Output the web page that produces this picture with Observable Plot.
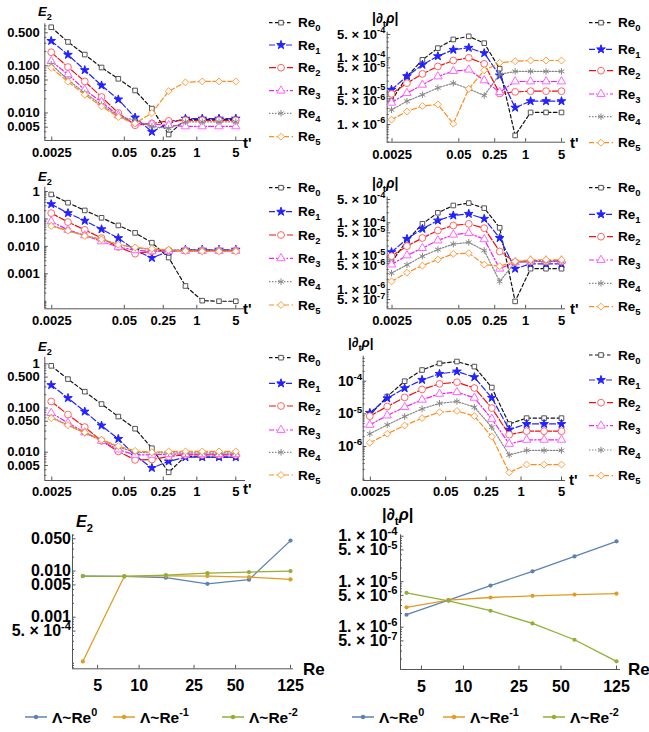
<!DOCTYPE html>
<html><head><meta charset="utf-8">
<script src="https://cdn.jsdelivr.net/npm/d3@7"></script>
<script src="https://cdn.jsdelivr.net/npm/@observablehq/plot@0.6"></script>
<style>
body{margin:0;background:#fff;}
#root{position:relative;width:649px;height:732px;overflow:hidden;font-family:"Liberation Sans",Arial,sans-serif;font-weight:bold;}
</style></head><body><div id="root"></div>
<script>
// ---------------- data ----------------
const tPrime = [0.00244140625, 0.0048828125, 0.009765625, 0.01953125, 0.0390625, 0.078125, 0.15625, 0.3125, 0.625, 1.25, 2.5, 5];
const ReGrid = [3.90625, 7.8125, 15.625, 31.25, 62.5, 125];
const seriesNames = ["0", "1", "2", "3", "4", "5"];
const lambdaNames = ["0", "-1", "-2"];

const tTicks = [0.0025, 0.05, 0.25, 1, 5];
const tTickLabels = ["0.0025", "0.05", "0.25", "1", "5"];
const ReTicks = [5, 10, 25, 50, 125];
const ReTickLabels = ["5", "10", "25", "50", "125"];

const e2TicksA = [0.005, 0.01, 0.05, 0.1, 0.5];
const e2LabelsA = ["0.005", "0.010", "0.050", "0.100", "0.500"];
const e2TicksB = [0.001, 0.01, 0.1, 1];
const e2LabelsB = ["0.001", "0.010", "0.100", "1"];
const e2TicksC = [0.005, 0.01, 0.05, 0.1, 0.5, 1];
const e2LabelsC = ["0.005", "0.010", "0.050", "0.100", "0.500", "1"];
const e2TicksD = [5e-4, 0.001, 0.005, 0.01, 0.05];
const e2LabelsD = ["5. × 10^{-4}", "0.001", "0.005", "0.010", "0.050"];
const rhoTicksA = [1e-6, 5e-6, 1e-5, 5e-5, 1e-4, 5e-4];
const rhoLabelsA = ["1. × 10^{-6}", "5. × 10^{-6}", "1. × 10^{-5}", "5. × 10^{-5}", "1. × 10^{-4}", "5. × 10^{-4}"];
const rhoTicksB = [5e-7, 1e-6, 5e-6, 1e-5, 5e-5, 1e-4, 5e-4];
const rhoLabelsB = ["5. × 10^{-7}", "1. × 10^{-6}", "5. × 10^{-6}", "1. × 10^{-5}", "5. × 10^{-5}", "1. × 10^{-4}", "5. × 10^{-4}"];
const rhoTicksC = [1e-6, 1e-5, 1e-4];
const rhoLabelsC = ["10^{-6}", "10^{-5}", "10^{-4}"];
const rhoTicksD = [5e-7, 1e-6, 5e-6, 1e-5, 5e-5, 1e-4];
const rhoLabelsD = ["5. × 10^{-7}", "1. × 10^{-6}", "5. × 10^{-6}", "1. × 10^{-5}", "5. × 10^{-5}", "1. × 10^{-4}"];

// row 1
const e2Row1 = [
  [0.656, 0.32, 0.173, 0.092, 0.053, 0.030, 0.0124, 0.0035, 0.0073, 0.0073, 0.0073, 0.0073],
  [0.337, 0.171, 0.081, 0.0384, 0.0194, 0.0080, 0.0040, 0.0061, 0.0076, 0.0076, 0.0076, 0.0076],
  [0.194, 0.094, 0.0467, 0.0218, 0.0100, 0.0055, 0.0060, 0.0068, 0.0070, 0.0070, 0.0070, 0.0070],
  [0.125, 0.0656, 0.031, 0.017, 0.0089, 0.0060, 0.0058, 0.0055, 0.0052, 0.0052, 0.0052, 0.0052],
  [0.107, 0.0506, 0.0265, 0.015, 0.0085, 0.0070, 0.0052, 0.0047, 0.0065, 0.0065, 0.0065, 0.0065],
  [0.0907, 0.0459, 0.0244, 0.0138, 0.0082, 0.0060, 0.0100, 0.029, 0.0445, 0.0466, 0.0466, 0.0466]
];
const rhoRow1 = [
  [5.2e-6, 2.75e-5, 8.7e-5, 1.95e-4, 3.55e-4, 4.4e-4, 2.75e-4, 4.7e-5, 4.7e-7, 2.3e-6, 2.3e-6, 2.3e-6],
  [1.1e-5, 2.8e-5, 6.2e-5, 1.12e-4, 1.74e-4, 2.0e-4, 1.38e-4, 2.95e-5, 3.2e-6, 5.0e-6, 5.0e-6, 5.0e-6],
  [8.3e-6, 1.74e-5, 3.3e-5, 5.5e-5, 8.3e-5, 1.0e-4, 6.6e-5, 8.5e-6, 9.5e-6, 1.0e-5, 1.0e-5, 1.0e-5],
  [4.5e-6, 8.7e-6, 1.55e-5, 2.75e-5, 4.0e-5, 4.4e-5, 2.1e-5, 9.3e-6, 1.95e-5, 1.95e-5, 1.95e-5, 1.95e-5],
  [2.75e-6, 5.0e-6, 7.8e-6, 1.26e-5, 1.74e-5, 1.17e-5, 7.4e-6, 3.2e-5, 3.9e-5, 3.9e-5, 3.9e-5, 3.9e-5],
  [1.4e-6, 2.45e-6, 3.6e-6, 4.0e-6, 1.05e-6, 1.17e-5, 4.2e-5, 7.1e-5, 7.9e-5, 8.3e-5, 8.3e-5, 8.3e-5]
];
// row 2
const e2Row2 = [
  [0.78, 0.39, 0.204, 0.11, 0.058, 0.031, 0.0136, 0.0039, 0.00036, 0.000105, 0.0001, 0.0001],
  [0.346, 0.163, 0.086, 0.042, 0.020, 0.0072, 0.0038, 0.0066, 0.0076, 0.0076, 0.0076, 0.0076],
  [0.163, 0.077, 0.040, 0.020, 0.0095, 0.0054, 0.0066, 0.0070, 0.0070, 0.0070, 0.0070, 0.0070],
  [0.081, 0.040, 0.025, 0.0152, 0.0095, 0.0072, 0.0066, 0.0068, 0.0068, 0.0068, 0.0068, 0.0068],
  [0.058, 0.038, 0.025, 0.018, 0.012, 0.0087, 0.0078, 0.0074, 0.0074, 0.0074, 0.0074, 0.0074],
  [0.055, 0.037, 0.0238, 0.018, 0.0115, 0.0092, 0.0082, 0.0074, 0.0068, 0.0066, 0.0066, 0.0066]
];
const rhoRow2 = [
  [6.6e-6, 2.95e-5, 9.3e-5, 2.0e-4, 3.3e-4, 3.9e-4, 2.75e-4, 7.1e-5, 4.4e-7, 4.2e-6, 4.2e-6, 4.2e-6],
  [1.32e-5, 3.3e-5, 6.6e-5, 1.17e-4, 1.66e-4, 1.86e-4, 1.32e-4, 3.5e-5, 4.2e-6, 5.9e-6, 5.9e-6, 5.9e-6],
  [1.0e-5, 2.0e-5, 3.5e-5, 5.9e-5, 8.3e-5, 9.3e-5, 6.9e-5, 1.38e-5, 6.6e-6, 6.9e-6, 6.9e-6, 6.9e-6],
  [5.6e-6, 1.05e-5, 1.74e-5, 2.95e-5, 4.4e-5, 4.9e-5, 3.2e-5, 4.2e-6, 6.6e-6, 7.4e-6, 7.4e-6, 7.4e-6],
  [3.1e-6, 5.5e-6, 1.0e-5, 1.58e-5, 2.3e-5, 2.6e-5, 1.48e-5, 1.74e-6, 6.6e-6, 6.9e-6, 6.9e-6, 6.9e-6],
  [1.74e-6, 3.2e-6, 5.2e-6, 7.9e-6, 1.17e-5, 1.23e-5, 5.6e-6, 5.0e-6, 6.9e-6, 7.8e-6, 7.8e-6, 7.8e-6]
];
// row 3
const e2Row3 = [
  [0.90, 0.45, 0.234, 0.123, 0.064, 0.034, 0.0123, 0.0035, 0.0081, 0.0077, 0.0077, 0.0077],
  [0.33, 0.168, 0.083, 0.040, 0.020, 0.0084, 0.0044, 0.0062, 0.0077, 0.0077, 0.0077, 0.0077],
  [0.14, 0.071, 0.037, 0.018, 0.0104, 0.0067, 0.0068, 0.0080, 0.0087, 0.0087, 0.0087, 0.0087],
  [0.077, 0.046, 0.028, 0.018, 0.0115, 0.0087, 0.0087, 0.009, 0.009, 0.009, 0.009, 0.009],
  [0.062, 0.041, 0.027, 0.019, 0.013, 0.010, 0.0096, 0.0097, 0.0097, 0.0097, 0.0097, 0.0097],
  [0.059, 0.041, 0.028, 0.019, 0.0137, 0.0107, 0.0100, 0.0104, 0.0104, 0.0104, 0.0104, 0.0104]
];
const rhoRow3 = [
  [9.3e-6, 3.4e-5, 1.0e-4, 2.2e-4, 3.5e-4, 4.0e-4, 2.8e-4, 6.4e-5, 4.9e-6, 7.4e-6, 7.4e-6, 7.4e-6],
  [1.07e-5, 3.0e-5, 6.1e-5, 1.1e-4, 1.68e-4, 1.98e-4, 1.33e-4, 3.1e-5, 3.3e-6, 4.9e-6, 4.9e-6, 4.9e-6],
  [8.5e-6, 1.68e-5, 3.2e-5, 5.6e-5, 8.3e-5, 9.3e-5, 6.2e-5, 1.5e-5, 2.3e-6, 2.95e-6, 2.95e-6, 2.95e-6],
  [4.6e-6, 8.9e-6, 1.6e-5, 2.7e-5, 4.1e-5, 4.6e-5, 3.1e-5, 7.0e-6, 1.2e-6, 1.6e-6, 1.6e-6, 1.6e-6],
  [2.45e-6, 4.6e-6, 8.3e-6, 1.42e-5, 2.1e-5, 2.4e-5, 1.6e-5, 3.9e-6, 5.5e-7, 7.6e-7, 7.6e-7, 7.6e-7],
  [1.3e-6, 2.45e-6, 4.4e-6, 7.4e-6, 1.12e-5, 1.23e-5, 8.5e-6, 2.0e-6, 1.6e-7, 2.8e-7, 2.8e-7, 2.8e-7]
];
// bottom row (vs Re)
const e2VsRe = [
  [0.0078, 0.0077, 0.0072, 0.0053, 0.0065, 0.0457],
  [0.00011, 0.0077, 0.0079, 0.0078, 0.0074, 0.0066],
  [0.0078, 0.0077, 0.0082, 0.0090, 0.0095, 0.0100]
];
const rhoVsRe = [
  [1.88e-6, 3.95e-6, 8.2e-6, 1.69e-5, 3.6e-5, 7.7e-5],
  [2.73e-6, 3.95e-6, 4.5e-6, 4.9e-6, 5.2e-6, 5.45e-6],
  [5.7e-6, 3.8e-6, 2.3e-6, 1.21e-6, 5.3e-7, 1.78e-7]
];

// ---------------- styles ----------------
const FONT = '"Liberation Sans", Arial, sans-serif';
const reStyles = [
  {stroke: "#111", dash: "3.5,2.5", symbol: "square", r: 2.6, mStroke: "#555", mFill: "#fff"},
  {stroke: "#2222ff", dash: "6,2.5", symbol: "star", r: 2.7, mStroke: "#2222ff", mFill: "#2222ff"},
  {stroke: "#ee1111", dash: "7,2", symbol: "circle", r: 3.4, mStroke: "#ff6666", mFill: "#fff"},
  {stroke: "#ee22ee", dash: "5,2,1.5,2", symbol: "triangle", r: 3.1, mStroke: "#ff66ff", mFill: "#fff"},
  {stroke: "#888", dash: "1.5,1.5", symbol: "asterisk", r: 3.1, mStroke: "#888", mFill: "none"},
  {stroke: "#ff8c1a", dash: "5,2.5", symbol: "diamond2", r: 3.1, mStroke: "#ffa040", mFill: "#fff"}
];
const lamColors = ["#5E81B5", "#E19C24", "#8FB032"];

// ---------------- helpers ----------------
const root = document.getElementById("root");
function logDomain(pA, vA, pB, vB, e0, e1) {
  const k = (Math.log10(vB) - Math.log10(vA)) / (pB - pA);
  return [10 ** (Math.log10(vA) + (e0 - pA) * k), 10 ** (Math.log10(vA) + (e1 - pA) * k)];
}
function minorTicks([a, b], majors) {
  const lo = Math.min(a, b), hi = Math.max(a, b), out = [];
  for (let k = Math.floor(Math.log10(lo)); k <= Math.ceil(Math.log10(hi)); k++)
    for (let m = 1; m < 10; m++) {
      const v = m * 10 ** k;
      if (v >= lo && v <= hi && !majors.some(t => Math.abs(t - v) / v < 1e-6)) out.push(v);
    }
  return out;
}
function richText(t, size) {
  const s = t.textContent;
  if (!/[\^_*]\{/.test(s)) return;
  t.textContent = "";
  const re = /([\^_*])\{([^}]*)\}/g;
  let last = 0, m, shift = 0;
  const add = (str, kind) => {
    if (!str) return;
    const ts = document.createElementNS("http://www.w3.org/2000/svg", "tspan");
    ts.textContent = str;
    const target = kind === "^" ? -0.4 * size : kind === "_" ? 0.3 * size : 0;
    if (target !== shift) { ts.setAttribute("dy", target - shift); shift = target; }
    if (kind === "^" || kind === "_") ts.setAttribute("font-size", 0.7 * size);
    if (kind === "*") ts.setAttribute("font-style", "italic");
    t.appendChild(ts);
  };
  while ((m = re.exec(s))) { add(s.slice(last, m.index), null); add(m[2], m[1]); last = re.lastIndex; }
  add(s.slice(last), null);
}

function drawPanel(cfg) {
  const [L, T, W, H] = cfg.box;
  const [fl, fr, ft, fb] = cfg.frame;
  const xd = logDomain(...cfg.xcal, fl, fr);
  const yd = logDomain(...cfg.ycal, fb, ft);
  const yFont = cfg.yFont ?? cfg.font;
  const xLab = cfg.xTicks.map((v, i) => ({v, label: cfg.xLabels[i]}));
  const yLab = cfg.yTicks.map((v, i) => ({v, label: cfg.yLabels[i]}));
  const marks = [
    Plot.ruleX([xd[0]], {stroke: "#555", strokeWidth: 1}),
    Plot.ruleY([yd[0]], {stroke: "#555", strokeWidth: 1}),
    Plot.axisY({ticks: minorTicks(yd, cfg.yTicks), tickSize: -2, tickFormat: () => "", stroke: "#555", label: null}),
    Plot.axisY({ticks: cfg.yTicks, tickSize: -3.5, tickFormat: () => "", stroke: "#555", label: null}),
    Plot.axisX({ticks: cfg.xTicks, tickSize: -3.5, tickFormat: () => "", stroke: "#555", label: null}),
    Plot.text(yLab, {y: "v", text: "label", frameAnchor: "left", textAnchor: "end", lineAnchor: "middle", dx: -cfg.yPad, fontSize: yFont, className: "ylab"}),
    Plot.text(xLab, {x: "v", text: "label", frameAnchor: "bottom", textAnchor: "middle", lineAnchor: "top", dy: cfg.xPad, fontSize: cfg.font})
  ];
  cfg.series.forEach((vals, i) => {
    const rows = vals.map((v, j) => ({x: cfg.xs[j], y: v}));
    const st = cfg.styles[i];
    marks.push(Plot.line(rows, {x: "x", y: "y", stroke: st.stroke, strokeWidth: st.width ?? 1.2, strokeDasharray: st.dash}));
    marks.push(Plot.dot(rows, {x: "x", y: "y", symbol: st.symbol, r: st.r, stroke: st.mStroke, fill: st.mFill, strokeWidth: 1}));
  });
  const svg = Plot.plot({
    width: W, height: H,
    marginLeft: fl - L, marginRight: L + W - fr, marginTop: ft - T, marginBottom: T + H - fb,
    x: {type: "log", domain: xd},
    y: {type: "log", domain: yd},
    style: {fontFamily: FONT, fontSize: cfg.font + "px", fontWeight: "bold", overflow: "visible", background: "none", color: "#000"},
    marks
  });
  svg.style.position = "absolute";
  svg.style.left = L + "px";
  svg.style.top = T + "px";
  root.appendChild(svg);
  svg.querySelectorAll(".ylab text").forEach(t => richText(t, yFont));
}

const panels = [
  {box: [0, 0, 262, 165], frame: [44.3, 245, 23.3, 140], xcal: [50.7, tPrime[0], 235.3, 5], ycal: [32.3, 0.5, 126.7, 0.005],
   yTicks: e2TicksA, yLabels: e2LabelsA, series: e2Row1, xPad: 7.3, yPad: 5},
  {box: [320, 0, 260, 165], frame: [386.7, 565, 31.7, 141.7], xcal: [391, tPrime[0], 561, 5], ycal: [57.3, 1e-4, 124, 1e-6],
   yTicks: rhoTicksA, yLabels: rhoLabelsA, series: rhoRow1, xPad: 7.3, yPad: 2},
  {box: [0, 165, 262, 170], frame: [44.3, 245, 186.7, 308.3], xcal: [50.7, tPrime[0], 235.3, 5], ycal: [191, 1, 273.3, 0.001],
   yTicks: e2TicksB, yLabels: e2LabelsB, series: e2Row2, xPad: 7.2, yPad: 5},
  {box: [320, 165, 260, 170], frame: [386.7, 565, 196.7, 308.3], xcal: [391, tPrime[0], 561, 5], ycal: [222.3, 1e-4, 289, 1e-6],
   yTicks: rhoTicksB, yLabels: rhoLabelsB, series: rhoRow2, xPad: 7.2, yPad: 2},
  {box: [0, 335, 262, 170], frame: [44.3, 245, 356.7, 480], xcal: [50.7, tPrime[0], 235.3, 5], ycal: [363.3, 1, 465, 0.005],
   yTicks: e2TicksC, yLabels: e2LabelsC, series: e2Row3, xPad: 6.5, yPad: 5},
  {box: [320, 335, 260, 170], frame: [362.7, 565, 355.7, 480], xcal: [369.3, tPrime[0], 561, 5], ycal: [380.7, 1e-4, 446, 1e-6],
   yTicks: rhoTicksC, yLabels: rhoLabelsC, series: rhoRow3, xPad: 6.5, yPad: 1, yFont: 14}
];
panels.forEach(p => drawPanel({...p, xs: tPrime, xTicks: tTicks, xLabels: tTickLabels, styles: reStyles, font: 13}));

const lamStyles = lamColors.map(c => ({stroke: c, dash: null, symbol: "circle", r: 2.1, mStroke: "none", mFill: c, width: 1.3}));
drawPanel({box: [0, 505, 300, 200], frame: [72, 293, 534.3, 668.3], xcal: [82.3, ReGrid[0], 290, 125], ycal: [538.3, 0.05, 616.7, 0.001],
  xs: ReGrid, xTicks: ReTicks, xLabels: ReTickLabels, yTicks: e2TicksD, yLabels: e2LabelsD, series: e2VsRe, styles: lamStyles,
  font: 16, xPad: 11, yPad: 1.5});
drawPanel({box: [320, 505, 329, 200], frame: [400, 620, 534.3, 669], xcal: [406, ReGrid[0], 616, 125], ycal: [535.7, 1e-4, 626.7, 1e-6],
  xs: ReGrid, xTicks: ReTicks, xLabels: ReTickLabels, yTicks: rhoTicksD, yLabels: rhoLabelsD, series: rhoVsRe, styles: lamStyles,
  font: 16, xPad: 11, yPad: 3});

// ---------------- overlay: axis labels and legends ----------------
const ov = d3.create("svg").attr("width", 649).attr("height", 732)
  .style("position", "absolute").style("left", "0px").style("top", "0px").style("overflow", "visible")
  .attr("font-family", FONT).attr("font-weight", "bold");
function addText(x, y, str, size, anchor = "start") {
  const t = ov.append("text").attr("x", x).attr("y", y).attr("font-size", size).attr("text-anchor", anchor).text(str);
  richText(t.node(), size);
}
const symMap = {square: d3.symbolSquare, star: d3.symbolStar, circle: d3.symbolCircle, triangle: d3.symbolTriangle, asterisk: d3.symbolAsterisk, diamond2: d3.symbolDiamond2};

// axis labels
[[38, 15.7], [38, 181], [38, 351]].forEach(([x, y]) => addText(x, y, "*{E}_{2}", 13));
addText(76, 527, "*{E}_{2}", 16);
[[372, 23, 14], [372, 188, 14], [348, 347, 13.5], [382, 520, 16.5]].forEach(([x, y, s]) => addText(x, y, "|*{∂}_{t}*{ρ}|", s));
[[243, 148], [570, 148], [243, 314], [570, 314], [243, 494], [569, 485]].forEach(([x, y]) => addText(x, y, "t'", 15));
addText(303, 675, "Re", 17);
addText(628, 675, "Re", 17);

// top legends
const topLegends = [
  {x0: 269, ys: [22.7, 45, 67.7, 90.7, 113.3, 136.7]},
  {x0: 589, ys: [22.7, 49.3, 70.7, 94, 116.7, 142.7]},
  {x0: 269, ys: [187.7, 211.7, 235, 258.3, 281.7, 305]},
  {x0: 589, ys: [187.7, 214.3, 236.7, 260, 283.3, 306.7]},
  {x0: 269, ys: [357.7, 383.3, 406, 430, 452.3, 475]},
  {x0: 589, ys: [355, 380, 402.7, 425.7, 450, 475.7]}
];
topLegends.forEach(lg => {
  seriesNames.forEach((name, i) => {
    const st = reStyles[i], y = lg.ys[i];
    ov.append("line").attr("x1", lg.x0).attr("x2", lg.x0 + 24).attr("y1", y).attr("y2", y)
      .attr("stroke", st.stroke).attr("stroke-width", 1.2).attr("stroke-dasharray", st.dash);
    ov.append("path").attr("transform", `translate(${lg.x0 + 12},${y})`)
      .attr("d", d3.symbol(symMap[st.symbol], Math.PI * st.r * st.r)())
      .attr("stroke", st.mStroke).attr("fill", st.mFill).attr("stroke-width", 1);
    addText(lg.x0 + 29, y + 4.6, "Re_{" + name + "}", 13.5);
  });
});

// bottom legends
const bottomLegends = [[25, 113, 222], [352, 443, 543]];
bottomLegends.forEach(xs => {
  lambdaNames.forEach((name, i) => {
    const x0 = xs[i], y = 717;
    ov.append("line").attr("x1", x0).attr("x2", x0 + 22).attr("y1", y).attr("y2", y).attr("stroke", lamColors[i]).attr("stroke-width", 1.5);
    ov.append("circle").attr("cx", x0 + 11).attr("cy", y).attr("r", 2.2).attr("fill", lamColors[i]);
    addText(x0 + 27, y + 5.5, "Λ~Re^{" + name + "}", 15.5);
  });
});
root.appendChild(ov.node());
</script>
</body></html>
